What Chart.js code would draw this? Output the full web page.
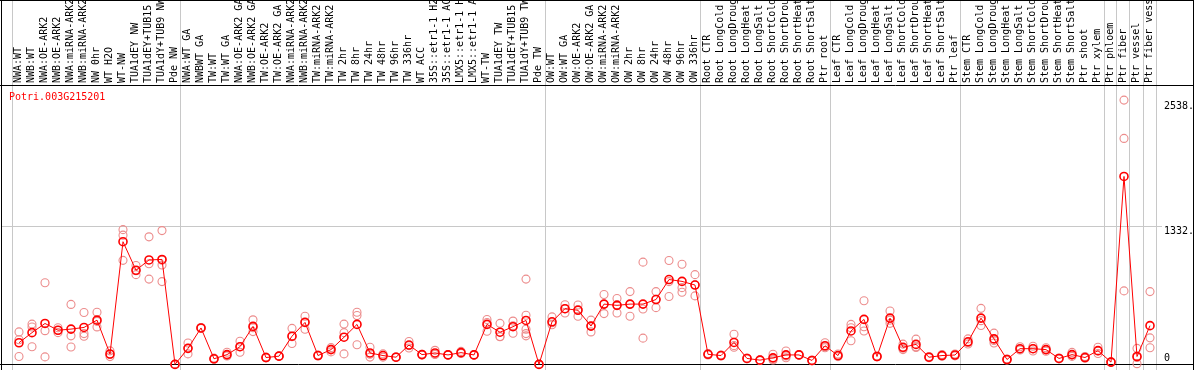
<!DOCTYPE html>
<html><head><meta charset="utf-8">
<style>html,body{margin:0;padding:0;background:#fff;overflow:hidden}#wrap{width:1194px;height:370px;position:relative}canvas{display:block}</style>
<script src="https://cdn.jsdelivr.net/npm/chart.js@4.4.1/dist/chart.umd.min.js"></script>
</head><body><div id="wrap"><canvas id="c" width="1194" height="370"></canvas></div>
<script>
const title = 'Potri.003G215201';
const categories = [
 'NWA:WT','NWB:WT','NWA:OE-ARK2','NWB:OE-ARK2','NWA:miRNA-ARK2','NWB:miRNA-ARK2','NW 0hr','WT H2O','WT-NW','TUA1dEY NW','TUA1dEY+TUB15','TUA1dY+TUB9 NW','Pde NW',
 'NWA:WT GA','NWBWT GA','TW:WT','TW:WT GA','NWA:OE-ARK2 GA','NWB:OE-ARK2 GA','TW:OE-ARK2','TW:OE-ARK2 GA','NWA:miRNA-ARK2','NWB:miRNA-ARK2','TW:miRNA-ARK2','TW:miRNA-ARK2',
 'TW 2hr','TW 8hr','TW 24hr','TW 48hr','TW 96hr','TW 336hr','WT ACC','35S::etr1-1 H2O','35S::etr1-1 ACC','LMX5::etr1-1 H2O','LMX5::etr1-1 ACC','WT-TW','TUA1dEY TW','TUA1dEY+TUB15','TUA1dY+TUB9 TW','Pde TW',
 'OW:WT','OW:WT GA','OW:OE-ARK2','OW:OE-ARK2 GA','OW:miRNA-ARK2','OW:miRNA-ARK2','OW 2hr','OW 8hr','OW 24hr','OW 48hr','OW 96hr','OW 336hr',
 'Root CTR','Root LongCold','Root LongDrought','Root LongHeat','Root LongSalt','Root ShortCold','Root ShortDrought','Root ShortHeat','Root ShortSalt','Ptr root',
 'Leaf CTR','Leaf LongCold','Leaf LongDrought','Leaf LongHeat','Leaf LongSalt','Leaf ShortCold','Leaf ShortDrought','Leaf ShortHeat','Leaf ShortSalt','Ptr leaf',
 'Stem CTR','Stem LongCold','Stem LongDrought','Stem LongHeat','Stem LongSalt','Stem ShortCold','Stem ShortDrought','Stem ShortHeat','Stem ShortSalt','Ptr shoot',
 'Ptr xylem','Ptr phloem','Ptr fiber','Ptr vessel','Ptr fiber vessel'
];
const means = [
 208,305,393,328,339,355,425,100,1178,904,1003,1008,0,
 154,350,54,94,170,365,66,79,271,403,85,142,
 261,384,110,85,69,186,94,110,91,113,91,384,309,362,422,0,
 409,535,520,368,579,567,579,579,623,815,797,762,
 97,85,211,57,41,63,91,91,38,179,
 85,321,432,76,444,164,192,69,85,90,
 217,444,245,47,151,151,142,57,94,66,
 132,22,1805,76,372
];
const rep1 = [
 312,387,784,352,576,498,501,130,1294,950,1225,1285,0,
 205,345,60,116,223,428,70,80,346,463,90,161,
 387,501,164,101,72,220,98,135,95,125,95,431,394,416,819,0,
 456,573,570,425,671,633,699,982,699,998,961,862,
 105,90,290,60,44,97,129,95,42,208,
 100,384,611,80,513,195,243,75,95,100,
 245,538,300,52,170,175,160,62,115,75,
 164,25,2538,154,699
];
const rep2 = [
 236,359,324,305,274,296,413,95,1241,900,966,1000,0,
 155,350,50,85,170,352,65,79,266,409,85,145,
 305,470,97,85,68,180,94,100,90,110,90,403,268,371,472,0,
 400,535,527,368,578,574,575,532,625,795,737,765,
 97,85,180,56,41,50,80,90,38,170,
 80,352,362,76,425,155,170,68,82,88,
 210,420,230,46,145,150,140,56,90,64,
 128,22,2170,67,255
];
const rep3 = [
 76,170,72,328,167,271,360,75,999,862,819,954,0,
 101,355,52,81,116,315,63,78,201,337,80,120,
 101,189,70,70,67,158,90,95,88,104,88,318,265,299,337,0,
 381,494,463,312,488,494,463,252,545,652,693,658,
 90,80,164,54,38,42,64,88,34,160,
 75,227,321,72,394,142,163,64,78,82,
 196,374,205,43,138,128,126,53,77,59,
 104,19,706,7,160
];
const rep4 = [
 null,null,null,null,null,null,null,null,null,null,null,795,null,
 null,null,null,null,null,null,null,null,null,null,null,null,
 null,null,null,null,null,null,null,null,null,null,null,null,null,null,296,null,
 null,null,null,null,null,null,null,null,null,null,null,null,
 null,null,null,null,null,null,null,null,null,null,
 null,null,null,null,null,null,null,null,null,null,
 null,null,null,null,null,null,null,null,null,null,
 null,null,null,null,null
];
const rep5 = [
 null,null,null,null,null,null,null,null,null,null,null,null,null,
 null,null,null,null,null,null,null,null,null,null,null,null,
 null,null,null,null,null,null,null,null,null,null,null,null,null,null,274,null,
 null,null,null,null,null,null,null,null,null,null,null,null,
 null,null,null,null,null,null,null,null,null,null,
 null,null,null,null,null,null,null,null,null,null,
 null,null,null,null,null,null,null,null,null,null,
 null,null,null,null,null
];
const groupStarts = [0,13,41,53,63,73,84,85,86,87,88];
const yTicks = [0,1332,2538];
const yTickLabels = ['0','1332.','2538.'];
const yMax = 2673.4;

const meanData = means.map((v,i)=>({x:i,y:v}));
const repData = [];
[rep1,rep2,rep3,rep4,rep5].forEach(arr=>arr.forEach((v,i)=>{ if(v!==null) repData.push({x:i,y:v}); }));

const FONT = '10px "DejaVu Sans Mono", "Liberation Mono", monospace';
const framePlugin = {
  id:'frame',
  beforeDatasetsDraw(chart){
    const ctx = chart.ctx, xs = chart.scales.x, ys = chart.scales.y, W = chart.width, H = chart.height;
    ctx.save();
    ctx.lineWidth = 1;
    // vertical group separators
    ctx.strokeStyle = '#c8c8c8';
    groupStarts.forEach(k=>{
      const x = Math.round(xs.getPixelForValue(k - 0.5 - 1/13)) + 0.5;
      ctx.beginPath(); ctx.moveTo(x,0); ctx.lineTo(x,H); ctx.stroke();
    });
    // horizontal grid at middle tick
    const yg = Math.round(ys.getPixelForValue(yTicks[1])) + 0.5;
    ctx.beginPath(); ctx.moveTo(2,yg); ctx.lineTo(1162,yg); ctx.stroke();
    // black frame
    ctx.strokeStyle = '#000';
    ctx.beginPath();
    ctx.moveTo(0,0.5); ctx.lineTo(W,0.5);
    ctx.moveTo(1.5,0); ctx.lineTo(1.5,H);
    ctx.moveTo(W-0.5,0); ctx.lineTo(W-0.5,H);
    ctx.moveTo(0,85.5); ctx.lineTo(W,85.5);
    const yb = Math.round(ys.getPixelForValue(0)) + 0.5;
    ctx.moveTo(0,yb); ctx.lineTo(W,yb);
    ctx.stroke();
    // header labels
    ctx.fillStyle = '#000';
    ctx.font = FONT;
    ctx.textAlign = 'left';
    ctx.textBaseline = 'middle';
    categories.forEach((lab,i)=>{
      const x = xs.getPixelForValue(i) - 0.5;
      ctx.save(); ctx.translate(x, 83); ctx.rotate(-Math.PI/2);
      ctx.fillText(lab, 0, 0); ctx.restore();
    });
    // title
    ctx.fillStyle = '#ff0000';
    ctx.textBaseline = 'middle';
    ctx.fillText(title, 9, 97);
    // y labels
    ctx.fillStyle = '#000';
    yTicks.forEach((v,j)=>{
      const y = ys.getPixelForValue(v);
      if (y + 12 > chart.chartArea.bottom) { ctx.textBaseline = 'bottom'; ctx.fillText(yTickLabels[j], 1164, y - 1); }
      else { ctx.textBaseline = 'top'; ctx.fillText(yTickLabels[j], 1164, y + 1); }
    });
    ctx.restore();
  }
};

new Chart(document.getElementById('c'), {
  type:'line',
  data:{ datasets:[
    { label:'mean', data:meanData, borderColor:'#ff0000', borderWidth:1, tension:0,
      pointRadius:4, pointBorderWidth:1.6, pointBorderColor:'#ff0000', pointBackgroundColor:'rgba(0,0,0,0)', clip:false, order:0 },
    { label:'replicates', data:repData, showLine:false, pointRadius:4, pointBorderWidth:1.1,
      pointBorderColor:'rgb(236,140,140)', pointBackgroundColor:'rgba(0,0,0,0)', clip:false, order:1 }
  ]},
  options:{
    responsive:false, animation:false, devicePixelRatio:1,
    layout:{ padding:{ left:11, right:39, top:86, bottom:1 } },
    scales:{
      x:{ type:'linear', min:-8/13, max:88-8/13, display:false },
      y:{ type:'linear', min:0, max:yMax, display:false }
    },
    plugins:{ legend:{display:false}, tooltip:{enabled:false} },
    events:[]
  },
  plugins:[framePlugin]
});
</script></body></html>
